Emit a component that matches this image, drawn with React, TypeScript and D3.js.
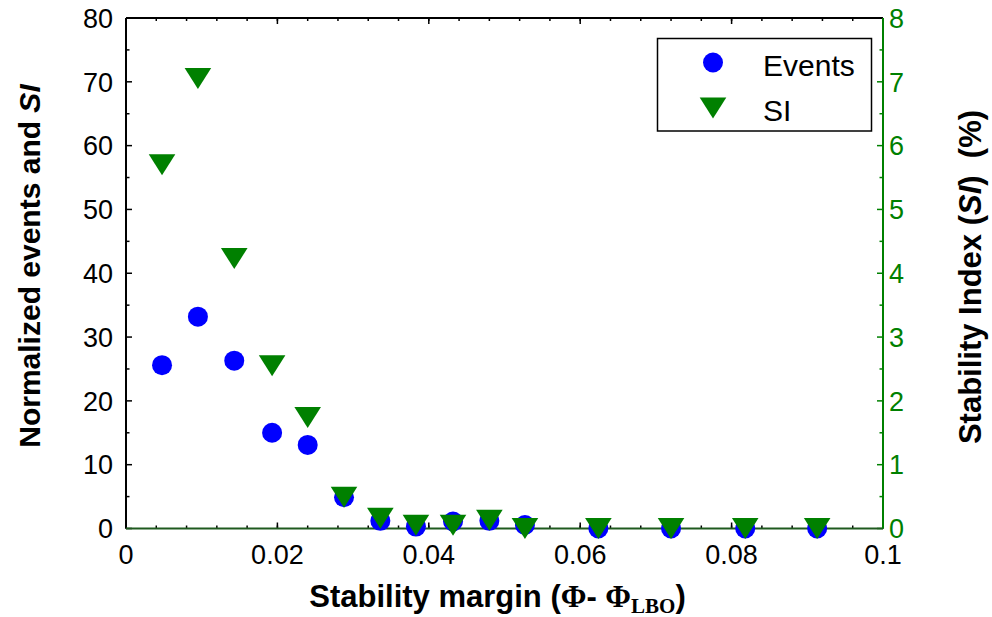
import React from "react";
import * as d3 from "d3";

const margins = [0.00476, 0.0095, 0.0143, 0.0193, 0.024, 0.0288, 0.0336, 0.0383, 0.0432, 0.048, 0.0527, 0.0624, 0.072, 0.0818, 0.0913];
const events = [25.6, 33.2, 26.3, 15.0, 13.1, 4.9, 1.2, 0.3, 1.1, 1.2, 0.55, 0, 0, 0, 0];
const stabilityIndex = [5.7, 7.05, 4.23, 2.55, 1.74, 0.49, 0.16, 0.05, 0.05, 0.13, 0.0, 0.0, 0.0, 0.0, 0.0];
const xTicks = [0, 0.02, 0.04, 0.06, 0.08, 0.1];
const xTickLabels = ["0", "0.02", "0.04", "0.06", "0.08", "0.1"];
const yLeftTicks = [0, 10, 20, 30, 40, 50, 60, 70, 80];
const yRightTicks = [0, 1, 2, 3, 4, 5, 6, 7, 8];
const seriesNames = ["Events", "SI"];

const W = 992, H = 617;
const L = 126, R = 883, T = 18, B = 528.5;
const FONT = "'Liberation Sans', Arial, Helvetica, sans-serif";
const SERIF = "'Liberation Serif', 'Times New Roman', serif";
const GREEN = "#008000";
const BLUE = "#0000ff";

const tri = (cx: number, cy: number) => {
  const w = 13.3, h = 10.5;
  return `M${cx - w},${cy - h}L${cx + w},${cy - h}L${cx},${cy + h}Z`;
};

export default function App() {
  const x = d3.scaleLinear().domain([0, 0.1]).range([L, R]);
  const yL = d3.scaleLinear().domain([0, 80]).range([B, T]);
  const yR = d3.scaleLinear().domain([0, 8]).range([B, T]);
  const xMinor = d3.range(0, 0.1001, 0.004);
  const yLMinor = d3.range(0, 80.01, 5);
  const yRMinor = d3.range(0, 8.01, 0.5);

  return (
    <svg width={W} height={H} style={{ position: "absolute", left: 0, top: 0, background: "#fff" }} fontFamily={FONT}>
      {/* ticks top/bottom */}
      {xMinor.map((v, i) => (
        <g key={"xm" + i} stroke="#000" strokeWidth={1.5}>
          <line x1={x(v)} x2={x(v)} y1={T} y2={T + 3} />
          <line x1={x(v)} x2={x(v)} y1={B} y2={B - 3} />
        </g>
      ))}
      {xTicks.map((v, i) => (
        <g key={"xM" + i} stroke="#000" strokeWidth={1.5}>
          <line x1={x(v)} x2={x(v)} y1={T} y2={T + 6} />
          <line x1={x(v)} x2={x(v)} y1={B} y2={B - 6} />
        </g>
      ))}
      {/* left ticks */}
      {yLMinor.map((v, i) => (
        <line key={"yl" + i} x1={L} x2={L + (v % 10 === 0 ? 6 : 3.5)} y1={yL(v)} y2={yL(v)} stroke="#000" strokeWidth={1.5} />
      ))}
      {/* right ticks */}
      {yRMinor.map((v, i) => (
        <line key={"yr" + i} x1={R} x2={R - (Number.isInteger(v) ? 6 : 3.5)} y1={yR(v)} y2={yR(v)} stroke={GREEN} strokeWidth={1.5} />
      ))}
      {/* axis lines */}
      <line x1={L} x2={R} y1={T} y2={T} stroke="#000" strokeWidth={2} />
      <line x1={L} x2={L} y1={T} y2={B} stroke="#000" strokeWidth={2} />
      <line x1={L} x2={R} y1={B} y2={B} stroke="#1f5a1f" strokeWidth={2} />
      <line x1={R} x2={R} y1={T} y2={B} stroke={GREEN} strokeWidth={2} />

      {/* tick labels */}
      {xTicks.map((v, i) => (
        <text key={"xl" + i} x={x(v)} y={564} textAnchor="middle" fontSize={27}>{xTickLabels[i]}</text>
      ))}
      {yLeftTicks.map((v, i) => (
        <text key={"yll" + i} x={113} y={yL(v) + 9.7} textAnchor="end" fontSize={27}>{v}</text>
      ))}
      {yRightTicks.map((v, i) => (
        <text key={"yrl" + i} x={889} y={yR(v) + 9.7} textAnchor="start" fontSize={27} fill={GREEN}>{v}</text>
      ))}

      {/* data */}
      {margins.map((m, i) => (
        <circle key={"c" + i} cx={x(m)} cy={yL(events[i])} r={10} fill={BLUE} />
      ))}
      {margins.map((m, i) => (
        <path key={"t" + i} d={tri(x(m), yR(stabilityIndex[i]))} fill={GREEN} />
      ))}

      {/* legend */}
      <rect x={657.5} y={38.5} width={214} height={92.5} fill="#fff" stroke="#000" strokeWidth={1.5} />
      <circle cx={713} cy={62.5} r={10} fill={BLUE} />
      <path d={tri(713, 108)} fill={GREEN} />
      <text x={763} y={76} fontSize={30}>{seriesNames[0]}</text>
      <text x={763} y={120.5} fontSize={30}>{seriesNames[1]}</text>

      {/* axis titles */}
      <text x={497.5} y={607} textAnchor="middle" fontSize={31} fontWeight="bold">
        Stability margin (<tspan fontFamily={SERIF}>Φ</tspan>- <tspan fontFamily={SERIF}>Φ</tspan>
        <tspan fontFamily={SERIF} fontSize={21} dy={6}>LBO</tspan>
        <tspan dy={-6}>)</tspan>
      </text>
      <text transform="translate(40,266) rotate(-90)" textAnchor="middle" fontSize={30} fontWeight="bold">
        Normalized events and <tspan fontStyle="italic">SI</tspan>
      </text>
      <text transform="translate(981,277) rotate(-90)" textAnchor="middle" fontSize={31} fontWeight="bold" style={{ whiteSpace: "pre" }}>
        {"Stability Index ("}<tspan fontStyle="italic">SI</tspan>{")  (%)"}
      </text>
    </svg>
  );
}
